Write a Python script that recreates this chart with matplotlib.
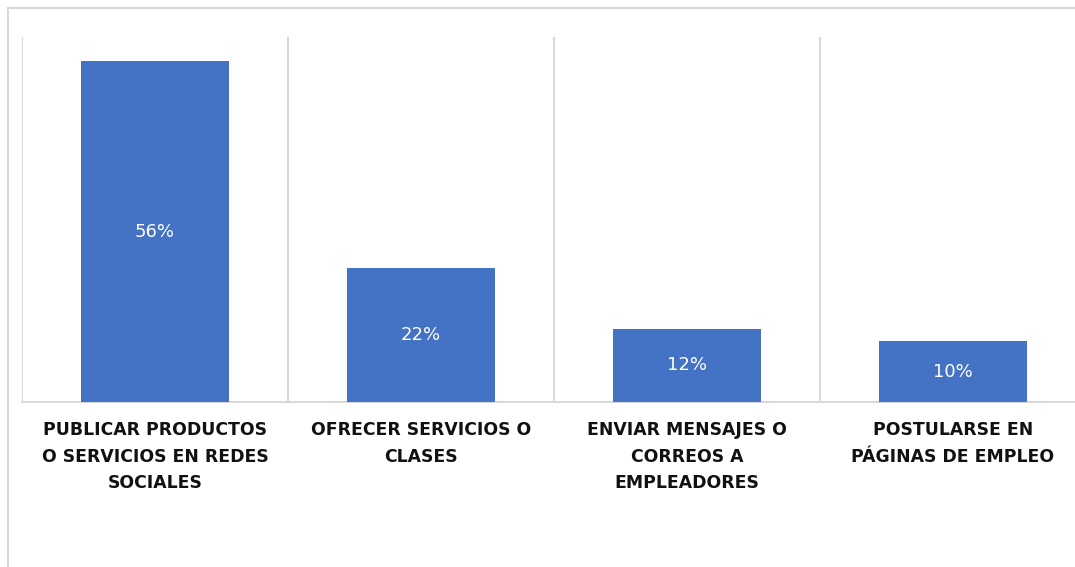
import matplotlib.pyplot as plt
from matplotlib.patches import Rectangle

categorias = ['PUBLICAR PRODUCTOS\nO SERVICIOS EN REDES\nSOCIALES',
              'OFRECER SERVICIOS O\nCLASES',
              'ENVIAR MENSAJES O\nCORREOS A\nEMPLEADORES',
              'POSTULARSE EN\nPÁGINAS DE EMPLEO']
valores = [56, 22, 12, 10]
etiquetas = ['56%', '22%', '12%', '10%']

fig = plt.figure(figsize=(10.75, 5.67), dpi=100)
ax = fig.add_axes([22 / 1075, 165 / 567, 1064 / 1075, 365 / 567])

x = range(len(valores))
bars = ax.bar(x, valores, width=0.556, color='#4472C4', zorder=3)
for b, t in zip(bars, etiquetas):
    ax.text(b.get_x() + b.get_width() / 2, b.get_height() / 2, t,
            ha='center', va='center', color='white', fontsize=13, zorder=4)

ax.set_xlim(-0.5, 3.5)
ax.set_ylim(0, 60)
ax.set_yticks([])
ax.set_xticks(list(x))
ax.set_xticklabels(categorias, fontsize=12.4, fontweight='bold', color='#111111',
                   linespacing=1.58)
ax.tick_params(axis='x', length=0, pad=14)
ax.set_xticks([-0.5, 0.5, 1.5, 2.5, 3.5], minor=True)
ax.tick_params(axis='x', which='minor', length=0)
ax.grid(which='minor', axis='x', color='#D9D9D9', lw=1.5, zorder=0)
for s in ['top', 'right', 'left']:
    ax.spines[s].set_visible(False)
ax.spines['bottom'].set_color('#D9D9D9')
ax.spines['bottom'].set_linewidth(1.5)

fig.patches.append(Rectangle((8 / 1075, -0.1), 1.2, 1 - 8 / 567 + 0.1,
                             transform=fig.transFigure, fill=False,
                             edgecolor='#D9D9D9', lw=1.5))

fig.savefig('out.png', dpi=100)
